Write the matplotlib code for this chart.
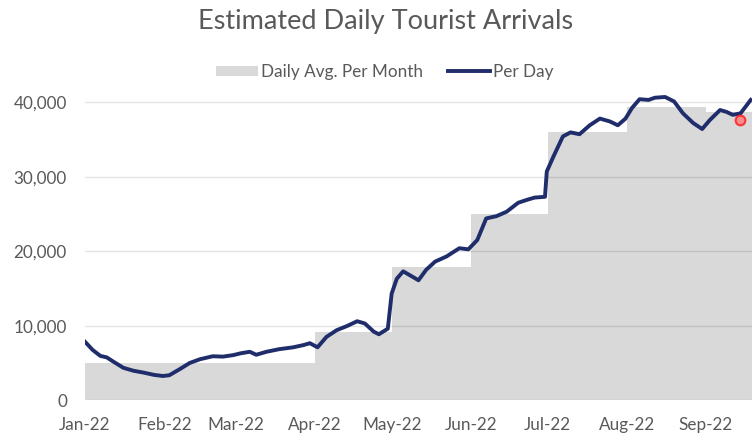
import matplotlib
matplotlib.use("Agg")
import matplotlib.pyplot as plt
from matplotlib.patches import Patch
from matplotlib.lines import Line2D

plt.rcParams['font.family'] = ['Lato', 'DejaVu Sans']

# monthly averages (grey steps)
month_labels = ["Jan-22", "Feb-22", "Mar-22", "Apr-22", "May-22",
                "Jun-22", "Jul-22", "Aug-22", "Sep-22"]
month_start = [0, 31, 59, 90, 120, 151, 181, 212, 243]
month_days = [31, 28, 31, 30, 31, 30, 31, 31, 30]
month_avg = [4950, 4950, 4950, 9100, 17900, 25000, 36000, 39400, 38700]

# per day readings (day of year from 1 Jan 2022)
day = [0, 3, 6, 8.5, 11, 15, 19, 23, 27, 30.5, 33, 37, 41, 45, 50, 54, 58,
       61, 64.5, 67, 71, 76, 81.5, 85.5, 88, 91, 94.5, 98.5, 102.5, 106.5,
       109.5, 113, 115, 118.5, 120, 122, 124.5, 127, 130.5, 133.5, 137,
       141.5, 146.5, 150, 153.5, 157, 161, 165, 169.5, 173, 176, 180,
       180.7, 183.3, 187, 190, 193.5, 197.5, 201.5, 205.5, 208.5, 211.5,
       214, 217, 220.5, 223, 227, 230.5, 234, 238, 241.5, 244.5, 248.5,
       251, 253.5, 256.5, 258.5, 260.5]
per_day = [7850, 6750, 5950, 5750, 5200, 4350, 3950, 3700, 3400, 3250, 3350,
           4150, 5000, 5500, 5900, 5850, 6050, 6300, 6500, 6100, 6500, 6850,
           7100, 7400, 7650, 7100, 8500, 9400, 9950, 10600, 10300, 9200,
           8850, 9600, 14300, 16300, 17300, 16800, 16100, 17500, 18600,
           19300, 20400, 20250, 21500, 24400, 24700, 25300, 26500, 26900,
           27200, 27300, 30700, 32700, 35400, 35950, 35700, 36900, 37800,
           37400, 36900, 37800, 39200, 40400, 40300, 40600, 40700, 40100,
           38500, 37200, 36400, 37600, 38950, 38700, 38300, 38500, 39400,
           40300]

marker_day = 256.4
marker_val = 37600

grey = "#d9d9d9"
navy = "#1f2d6b"
txt = "#595959"

fig = plt.figure(figsize=(7.52, 4.36), dpi=100)
ax = fig.add_axes([0.113, 0.0821, 0.887, 0.7177])

ax.bar(month_start, month_avg, width=month_days, align='edge',
       color=grey, linewidth=0, zorder=1)
ax.plot(day, per_day, color=navy, lw=2.8, zorder=3, solid_joinstyle='round')
ax.plot([marker_day], [marker_val], 'o', ms=7, mfc='#ff8080', mec='#ff2020',
        mew=1.5, alpha=0.85, zorder=4)

ax.set_xlim(0, 261)
ax.set_ylim(0, 42000)
ax.set_yticks([0, 10000, 20000, 30000, 40000])
ax.set_yticklabels(["0", "10,000", "20,000", "30,000", "40,000"])
ax.set_xticks(month_start)
ax.set_xticklabels(month_labels)
ax.tick_params(length=0, labelsize=12.3, labelcolor=txt)
ax.tick_params(axis='y', pad=13)
ax.tick_params(axis='x', pad=12)
for s in ax.spines.values():
    s.set_visible(False)
ax.grid(axis='y', color='black', alpha=0.11, lw=1, zorder=2)
ax.set_axisbelow(False)
for gl in ax.get_ygridlines():
    gl.set_zorder(2)

fig.text(0.513, 0.950, "Estimated Daily Tourist Arrivals", ha='center',
         va='center', fontsize=19.5, color=txt)

handles = [Patch(facecolor=grey, edgecolor='none'),
           Line2D([0], [0], color=navy, lw=2.8)]
fig.legend(handles, ["Daily Avg. Per Month", "Per Day"], loc='center',
           bbox_to_anchor=(0.512, 0.835), ncol=2, frameon=False,
           fontsize=12.3, labelcolor=txt, handlelength=2.45,
           handleheight=0.5, handletextpad=0.2, columnspacing=1.45)

fig.savefig("out.png", dpi=100)
